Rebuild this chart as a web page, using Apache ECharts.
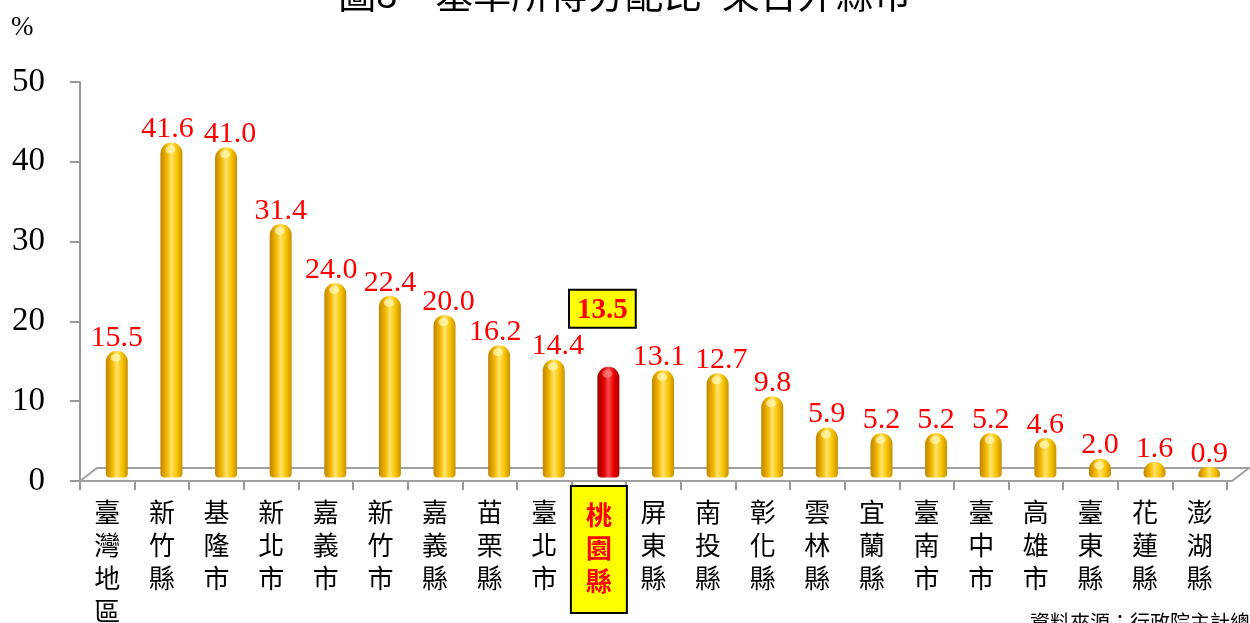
<!DOCTYPE html>
<html>
<head>
<meta charset="utf-8">
<script src="https://cdn.jsdelivr.net/npm/echarts@6/dist/echarts.min.js"></script>
<style>
    html, body { margin: 0; padding: 0; background: #fff; }
    #chart { width: 1250px; height: 623px; }
</style>
</head>
<body>
<div id="chart"></div>
<script>
    // 資料
    const categories = ['臺灣地區', '新竹縣', '基隆市', '新北市', '嘉義市', '新竹市', '嘉義縣', '苗栗縣', '臺北市', '桃園縣',
        '屏東縣', '南投縣', '彰化縣', '雲林縣', '宜蘭縣', '臺南市', '臺中市', '高雄市', '臺東縣', '花蓮縣', '澎湖縣'];
    const values = [15.5, 41.6, 41.0, 31.4, 24.0, 22.4, 20.0, 16.2, 14.4, 13.5,
        13.1, 12.7, 9.8, 5.9, 5.2, 5.2, 5.2, 4.6, 2.0, 1.6, 0.9];
    const yTicks = [0, 10, 20, 30, 40, 50];
    const highlightName = '桃園縣';

    const serif = '"Liberation Serif", "Times New Roman", serif';
    const cjk = '"Noto Sans CJK TC", "Noto Sans CJK SC", sans-serif';
    const labelFont = '30px ' + serif;

    const chart = echarts.init(document.getElementById('chart'));

    // 立體偏移 (柱子位於地板中間)
    const depthX = 17, depthY = -13;

    // 量文字寬度，相鄰標籤太擠時左右推開
    const ctx = document.createElement('canvas').getContext('2d');
    ctx.font = labelFont;
    function textW(v) { return ctx.measureText(v.toFixed(1)).width; }
    function nudge(i, spacing, unit) {
        let dx = 0;
        [-1, 1].forEach(function (d) {
            const j = i + d;
            if (j < 0 || j >= values.length) return;
            if (categories[j] === highlightName || categories[i] === highlightName) return;
            if (Math.abs(values[i] - values[j]) * unit > 24) return;
            const over = (textW(values[i]) + textW(values[j])) / 2 + 10 - spacing;
            if (over > 0) dx -= d * over / 2;
        });
        return dx;
    }

    function cylFill(hl) {
        const c = hl
            ? ['#9a0000', '#e00000', '#ff4a4a', '#e80000', '#a80000']
            : ['#c08400', '#f2b800', '#ffe36a', '#f7c300', '#c99000'];
        return new echarts.graphic.LinearGradient(0, 0, 1, 0, [
            {offset: 0, color: c[0]},
            {offset: 0.3, color: c[1]},
            {offset: 0.5, color: c[2]},
            {offset: 0.75, color: c[3]},
            {offset: 1, color: c[4]}
        ]);
    }

    chart.setOption({
        animation: false,
        title: {
            text: '圖8　基準所得分配比–東台外縣市',
            left: 'center',
            top: -30,
            textStyle: {fontFamily: cjk, fontSize: 38, fontWeight: 'normal', color: '#000'}
        },
        graphic: [
            {type: 'text', left: 11, top: 14, style: {text: '%', font: '27px ' + serif, fill: '#000'}},
            {type: 'text', left: 1030, top: 612, style: {text: '資料來源：行政院主計總處', font: '20px ' + cjk, fill: '#000'}}
        ],
        grid: {left: 80, right: 23, top: 82, bottom: 142, outerBoundsMode: 'none'},
        xAxis: {
            type: 'category',
            data: categories.map(function (c) {
                if (c !== highlightName) return c;
                return {
                    value: c,
                    textStyle: {
                        color: '#ff0000', fontWeight: 'bold', backgroundColor: '#ffff00',
                        borderColor: '#000', borderWidth: 2, padding: [12, 14, 14, 14]
                    }
                };
            }),
            axisLine: {lineStyle: {color: '#999', width: 2}},
            axisTick: {show: true, length: 9, lineStyle: {color: '#999', width: 2}},
            axisLabel: {
                interval: 0,
                margin: 6,
                padding: [9, 0, 0, 0],
                fontFamily: cjk,
                fontSize: 26,
                lineHeight: 33,
                color: '#000',
                formatter: function (v) { return v.split('').join('\n'); }
            }
        },
        yAxis: {
            type: 'value',
            min: yTicks[0],
            max: yTicks[yTicks.length - 1],
            interval: 10,
            splitLine: {show: false},
            axisLine: {show: true, lineStyle: {color: '#999', width: 2}},
            axisTick: {show: true, length: 10, lineStyle: {color: '#999', width: 2}},
            axisLabel: {margin: 35, fontFamily: serif, fontSize: 33, color: '#000'}
        },
        series: [
            {
                // 地板
                type: 'custom',
                z: 1,
                silent: true,
                data: [0],
                renderItem: function (params, api) {
                    const cs = params.coordSys;
                    const y0 = cs.y + cs.height, x0 = cs.x, x1 = cs.x + cs.width + 5;
                    return {
                        type: 'polygon',
                        shape: {points: [[x0, y0], [x1, y0], [x1 + depthX, y0 + depthY], [x0 + depthX, y0 + depthY]]},
                        style: {fill: '#fff', stroke: '#a0a0a0', lineWidth: 2}
                    };
                }
            },
            {
                type: 'custom',
                z: 5,
                data: values.map(function (v, i) { return [i, v]; }),
                renderItem: function (params, api) {
                    const i = api.value(0), v = api.value(1);
                    const hl = categories[i] === highlightName;
                    const base = api.coord([i, 0]);
                    const top = api.coord([i, v]);
                    const spacing = api.size([1, 0])[0];
                    const unit = base[1] - api.coord([i, 1])[1];
                    const w = 22;
                    const cx = base[0] + depthX / 2 + 1;
                    const by = base[1] + depthY / 2;
                    const ty = top[1] + depthY / 2;
                    const h = Math.max(by - ty, 6);
                    const children = [
                        {
                            type: 'rect',
                            shape: {x: cx - w / 2, y: by - h, width: w, height: h + 3, r: [w / 2, w / 2, 4, 4]},
                            style: {fill: cylFill(hl)}
                        }
                    ];
                    if (h > 14) {
                        children.push({
                            type: 'ellipse',
                            shape: {cx: cx - 1, cy: by - h + 7, rx: 5, ry: 4},
                            style: {fill: hl ? 'rgba(255,150,150,0.6)' : 'rgba(255,250,190,0.7)'}
                        });
                    }
                    if (hl) {
                        children.push({
                            type: 'text',
                            x: cx - 6, y: by - h - 40,
                            style: {
                                text: v.toFixed(1), font: 'bold 29px ' + serif, fill: '#ff0000',
                                align: 'center', verticalAlign: 'bottom',
                                backgroundColor: '#ffff00', borderColor: '#000', borderWidth: 2,
                                padding: [5, 7, 2, 7]
                            }
                        });
                    } else {
                        children.push({
                            type: 'text',
                            x: cx + nudge(i, spacing, unit), y: by - h + 2,
                            style: {
                                text: v.toFixed(1), font: labelFont, fill: '#ff0000',
                                align: 'center', verticalAlign: 'bottom'
                            }
                        });
                    }
                    return {type: 'group', children: children};
                }
            }
        ]
    });
</script>
</body>
</html>
